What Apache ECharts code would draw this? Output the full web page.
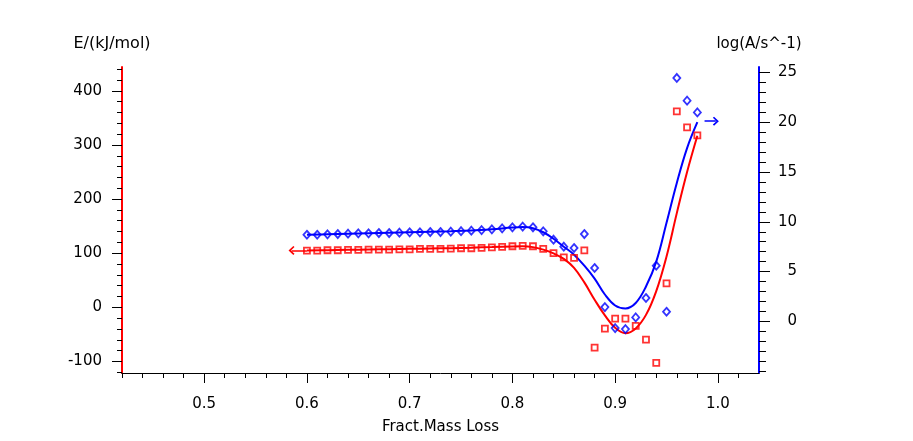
<!DOCTYPE html>
<html>
<head>
<meta charset="utf-8">
<script src="https://cdn.jsdelivr.net/npm/echarts@6/dist/echarts.min.js"></script>
<style>html,body{margin:0;padding:0;background:#fff}#c{width:913px;height:441px}</style>
</head>
<body>
<div id="c"></div>
<script>
// ---- data ----
const xMarks = [0.60,0.61,0.62,0.63,0.64,0.65,0.66,0.67,0.68,0.69,0.70,0.71,0.72,0.73,0.74,0.75,0.76,0.77,0.78,0.79,0.80,0.81,0.82,0.83,0.84,0.85,0.86,0.87,0.88,0.89,0.90,0.91,0.92,0.93,0.94,0.95,0.96,0.97,0.98];
const eValues = [104.8,104.8,105.4,105.4,106.0,106.0,106.6,106.6,106.6,107.2,107.2,107.9,107.9,107.9,108.5,109.1,109.1,109.7,110.9,111.5,112.8,113.4,112.8,107.9,100.0,92.4,91.5,105.0,-74.5,-39.4,-20.9,-20.9,-34.4,-59.7,-102.8,44.3,362.0,332.6,317.8];
const logAValues = [8.70,8.70,8.74,8.77,8.81,8.84,8.84,8.87,8.87,8.91,8.94,8.94,8.97,8.97,9.01,9.06,9.11,9.17,9.24,9.34,9.44,9.52,9.45,9.04,8.20,7.50,7.37,8.77,5.36,1.44,-0.67,-0.77,0.40,2.35,5.59,0.97,24.44,22.16,20.98];
const fitX = [0.60,0.62,0.64,0.66,0.68,0.70,0.72,0.74,0.76,0.78,0.80,0.81,0.82,0.83,0.84,0.85,0.86,0.87,0.88,0.89,0.90,0.91,0.92,0.93,0.94,0.95,0.96,0.97,0.98];
const eFit = [105,105.5,106.2,106.8,107.4,108,108.6,109.3,110.2,111.3,112.5,112.8,111.2,106.5,99.5,89.5,73,46,14,-15,-38,-48,-39,-14,30,94,174,250,317];
const logAFit = [8.7,8.75,8.8,8.85,8.9,8.95,9.0,9.05,9.12,9.25,9.42,9.47,9.35,8.95,8.3,7.5,6.7,5.6,4.3,2.7,1.6,1.3,1.85,3.5,6.0,9.9,13.9,17.4,20.0];
const eArrow = [[0.60,105],[0.585,105]];
const logAArrow = [[0.987,20.1],[0.998,20.1]];
const xMajorTicks = [0.5,0.6,0.7,0.8,0.9,1.0];
const xMinorTicks = [0.42,0.44,0.46,0.48,0.50,0.52,0.54,0.56,0.58,0.60,0.62,0.64,0.66,0.68,0.70,0.72,0.74,0.76,0.78,0.80,0.82,0.84,0.86,0.88,0.90,0.92,0.94,0.96,0.98,1.00,1.02];
const eMajorTicks = [-100,0,100,200,300,400];
const eMinorTicks = [-120,-80,-60,-40,-20,20,40,60,80,120,140,160,180,220,240,260,280,320,340,360,380,420,440];
const logAMajorTicks = [0,5,10,15,20,25];
const logAMinorTicks = [-5,-4,-3,-2,-1,1,2,3,4,6,7,8,9,11,12,13,14,16,17,18,19,21,22,23,24];

const RED = '#ff0000', BLUE = '#0000ff';
const FONT = 'DejaVu Sans';
const pair = (xs, ys) => xs.map((x, i) => [x, ys[i]]);
const chevron = 'path://M4,0 L8,4 L7,5 L4,2 L1,5 L0,4 Z';

const X_MIN = 0.42, X_MAX = 1.04, E_MIN = -121.4, E_MAX = 444, L_MIN = -5.18, L_MAX = 25.54;

const chart = echarts.init(document.getElementById('c'), null, {renderer: 'canvas'});
chart.setOption({
  animation: false,
  backgroundColor: '#fff',
  grid: {left: 122, right: 154, top: 67, bottom: 68, containLabel: false, outerBoundsMode: 'none'},
  xAxis: [
    {
      type: 'value', min: X_MIN, max: X_MAX, position: 'bottom',
      name: 'Fract.Mass Loss', nameLocation: 'middle', nameGap: 47,
      nameTextStyle: {fontFamily: FONT, fontSize: 15, color: '#000'},
      axisLine: {show: true, onZero: false, lineStyle: {color: '#000', width: 1}},
      axisTick: {show: true, customValues: xMajorTicks, length: 10, lineStyle: {color: '#000', width: 1}},
      axisLabel: {show: true, customValues: xMajorTicks, margin: 24, fontFamily: FONT, fontSize: 15, color: '#000',
                  formatter: v => v.toFixed(1)},
      splitLine: {show: false}
    },
    {
      type: 'value', min: X_MIN, max: X_MAX, position: 'bottom',
      axisLine: {show: false, onZero: false},
      axisTick: {show: true, customValues: xMinorTicks, length: 5, lineStyle: {color: '#000', width: 1}},
      axisLabel: {show: false},
      splitLine: {show: false}
    }
  ],
  yAxis: [
    {
      type: 'value', min: E_MIN, max: E_MAX, position: 'left',
      name: 'E/(kJ/mol)', nameLocation: 'end', nameGap: 23,
      nameTextStyle: {fontFamily: FONT, fontSize: 16, color: '#000', align: 'center', verticalAlign: 'middle', padding: [0, 20, 0, 0]},
      axisLine: {show: true, onZero: false, lineStyle: {color: RED, width: 2}},
      axisTick: {show: true, customValues: eMajorTicks, length: 10, lineStyle: {color: '#000', width: 1}},
      axisLabel: {show: true, customValues: eMajorTicks, margin: 20, fontFamily: FONT, fontSize: 15, color: '#000'},
      splitLine: {show: false}
    },
    {
      type: 'value', min: E_MIN, max: E_MAX, position: 'left',
      axisLine: {show: false, onZero: false},
      axisTick: {show: true, customValues: eMinorTicks, length: 5, lineStyle: {color: '#000', width: 1}},
      axisLabel: {show: false},
      splitLine: {show: false}
    },
    {
      type: 'value', min: L_MIN, max: L_MAX, position: 'right',
      name: 'log(A/s^-1)', nameLocation: 'end', nameGap: 23,
      nameTextStyle: {fontFamily: FONT, fontSize: 15, color: '#000', align: 'center', verticalAlign: 'middle'},
      axisLine: {show: true, onZero: false, lineStyle: {color: BLUE, width: 2}},
      axisTick: {show: true, customValues: logAMajorTicks, length: 11, lineStyle: {color: '#000', width: 1}},
      axisLabel: {show: true, customValues: logAMajorTicks, margin: 38, align: 'right', fontFamily: FONT, fontSize: 15, color: '#000'},
      splitLine: {show: false}
    },
    {
      type: 'value', min: L_MIN, max: L_MAX, position: 'right',
      axisLine: {show: false, onZero: false},
      axisTick: {show: true, customValues: logAMinorTicks, length: 7, lineStyle: {color: '#000', width: 1}},
      axisLabel: {show: false},
      splitLine: {show: false}
    }
  ],
  series: [
    {
      name: 'E fit', type: 'line', xAxisIndex: 0, yAxisIndex: 0,
      data: pair(fitX, eFit), smooth: 0.4, showSymbol: false, symbol: 'none',
      lineStyle: {color: RED, width: 2}, z: 2,
      markLine: {
        silent: true, symbol: ['none', chevron], symbolSize: [9, 6],
        label: {show: false}, lineStyle: {color: RED, width: 1.5, type: 'solid'},
        emphasis: {disabled: true},
        data: [[{coord: eArrow[0]}, {coord: eArrow[1]}]]
      }
    },
    {
      name: 'logA fit', type: 'line', xAxisIndex: 0, yAxisIndex: 2,
      data: pair(fitX, logAFit), smooth: 0.4, showSymbol: false, symbol: 'none',
      lineStyle: {color: BLUE, width: 2}, z: 2,
      markLine: {
        silent: true, symbol: ['none', chevron], symbolSize: [9, 6],
        label: {show: false}, lineStyle: {color: BLUE, width: 1.5, type: 'solid'},
        emphasis: {disabled: true},
        data: [[{coord: logAArrow[0]}, {coord: logAArrow[1]}]]
      }
    },
    {
      name: 'E', type: 'scatter', xAxisIndex: 0, yAxisIndex: 0,
      data: pair(xMarks, eValues), symbol: 'rect', symbolSize: 6,
      itemStyle: {color: 'rgba(255,255,255,0)', borderColor: RED, borderWidth: 1.8}, z: 3
    },
    {
      name: 'logA', type: 'scatter', xAxisIndex: 0, yAxisIndex: 2,
      data: pair(xMarks, logAValues), symbol: 'diamond', symbolSize: [7, 8],
      itemStyle: {color: 'rgba(255,255,255,0)', borderColor: BLUE, borderWidth: 1.8}, z: 3
    }
  ]
});
</script>
</body>
</html>
